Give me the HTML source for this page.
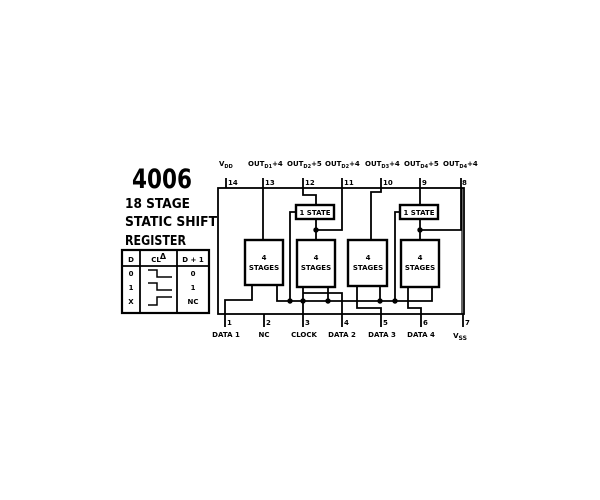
<!DOCTYPE html>
<html><head><meta charset="utf-8"><style>
html,body{margin:0;padding:0;background:#fff;width:600px;height:500px;overflow:hidden}
svg{display:block}
text{font-family:"DejaVu Sans","Liberation Sans",sans-serif;fill:#000}
</style></head><body>
<svg width="600" height="500" viewBox="0 0 600 500" xmlns="http://www.w3.org/2000/svg">
<g font-weight="bold">
<text x="132" y="188" font-size="27" textLength="60" lengthAdjust="spacingAndGlyphs">4006</text>
<text x="125" y="208" font-size="13" textLength="65" lengthAdjust="spacingAndGlyphs">18 STAGE</text>
<text x="125" y="226" font-size="13" textLength="92" lengthAdjust="spacingAndGlyphs">STATIC SHIFT</text>
<text x="125" y="245" font-size="13" textLength="61" lengthAdjust="spacingAndGlyphs">REGISTER</text>
</g>
<g stroke="#000" fill="none">
<rect x="122" y="250" width="87" height="63" stroke-width="2.2"/>
<line x1="122" y1="266" x2="209" y2="266" stroke-width="1.8"/>
<line x1="140" y1="250" x2="140" y2="313" stroke-width="1.8"/>
<line x1="177" y1="250" x2="177" y2="313" stroke-width="1.8"/>
<polyline points="148,270 157,270 157,277 172,277" stroke-width="1.5"/>
<polyline points="148,283 157,283 157,290 172,290" stroke-width="1.5"/>
<polyline points="148,305 157,305 157,297 172,297" stroke-width="1.5"/>
</g>
<g font-size="7" text-anchor="middle" font-weight="bold">
<text x="131" y="262">D</text><text x="156" y="262">CL</text><text x="163" y="259" font-size="8">Δ</text><text x="193" y="262">D + 1</text>
<text x="131" y="276">0</text><text x="131" y="290">1</text><text x="131" y="304">X</text>
<text x="193" y="276">0</text><text x="193" y="290">1</text><text x="193" y="304">NC</text>
</g>
<g stroke="#000" fill="none" stroke-width="1.8">
<rect x="218" y="188" width="246" height="126"/>
<line x1="462" y1="188" x2="462" y2="314" stroke-width="1.2"/>
<line x1="226" y1="178" x2="226" y2="188"/>
<line x1="263" y1="178" x2="263" y2="240"/>
<polyline points="303,178 303,195 316,195 316,205"/>
<polyline points="342,178 342,230 316,230"/>
<polyline points="381,178 381,192 371,192 371,240"/>
<line x1="420" y1="178" x2="420" y2="205"/>
<polyline points="461,178 461,230 420,230"/>
<line x1="316" y1="219" x2="316" y2="240"/>
<line x1="420" y1="219" x2="420" y2="240"/>
<polyline points="296,212 290,212 290,301"/>
<polyline points="400,212 395,212 395,301"/>
<rect x="245" y="240" width="38" height="45" stroke-width="2.4"/>
<rect x="297" y="240" width="38" height="47" stroke-width="2.4"/>
<rect x="348" y="240" width="39" height="46" stroke-width="2.4"/>
<rect x="401" y="240" width="38" height="47" stroke-width="2.4"/>
<rect x="296" y="205" width="38" height="14" stroke-width="2.4"/>
<rect x="400" y="205" width="38" height="14" stroke-width="2.4"/>
<polyline points="252,285 252,300 225,300 225,327"/>
<polyline points="277,285 277,301 432,301 432,287"/>
<line x1="303" y1="287" x2="303" y2="327"/>
<polyline points="303,293 342,293 342,327"/>
<line x1="328" y1="287" x2="328" y2="301"/>
<polyline points="357,286 357,308 381,308 381,327"/>
<line x1="380" y1="286" x2="380" y2="301"/>
<polyline points="408,287 408,308 421,308 421,327"/>
<line x1="264" y1="314" x2="264" y2="327"/>
<line x1="463" y1="314" x2="463" y2="327"/>
</g>
<g fill="#000">
<circle cx="316" cy="230" r="2.7"/><circle cx="420" cy="230" r="2.7"/>
<circle cx="290" cy="301" r="2.7"/><circle cx="303" cy="301" r="2.7"/><circle cx="328" cy="301" r="2.7"/>
<circle cx="380" cy="301" r="2.7"/><circle cx="395" cy="301" r="2.7"/>
</g>
<g font-size="7" text-anchor="middle" font-weight="bold">
<text x="264" y="260">4</text><text x="264" y="270">STAGES</text>
<text x="316" y="260">4</text><text x="316" y="270">STAGES</text>
<text x="368" y="260">4</text><text x="368" y="270">STAGES</text>
<text x="420" y="260">4</text><text x="420" y="270">STAGES</text>
<text x="315" y="215">1 STATE</text><text x="419" y="215">1 STATE</text>
</g>
<g font-size="7" font-weight="bold">
<text x="228" y="185">14</text><text x="265" y="185">13</text><text x="305" y="185">12</text>
<text x="344" y="185">11</text><text x="383" y="185">10</text><text x="422" y="185">9</text><text x="462" y="185">8</text>
<text x="227" y="325">1</text><text x="266" y="325">2</text><text x="305" y="325">3</text><text x="344" y="325">4</text>
<text x="383" y="325">5</text><text x="423" y="325">6</text><text x="465" y="325">7</text>
<text x="219" y="166">V<tspan font-size="5" dy="2">DD</tspan></text>
<text x="248" y="166">OUT<tspan font-size="5" dy="2">D1</tspan><tspan dy="-2">+4</tspan></text>
<text x="287" y="166">OUT<tspan font-size="5" dy="2">D2</tspan><tspan dy="-2">+5</tspan></text>
<text x="325" y="166">OUT<tspan font-size="5" dy="2">D2</tspan><tspan dy="-2">+4</tspan></text>
<text x="365" y="166">OUT<tspan font-size="5" dy="2">D3</tspan><tspan dy="-2">+4</tspan></text>
<text x="404" y="166">OUT<tspan font-size="5" dy="2">D4</tspan><tspan dy="-2">+5</tspan></text>
<text x="443" y="166">OUT<tspan font-size="5" dy="2">D4</tspan><tspan dy="-2">+4</tspan></text>
</g>
<g font-size="7" text-anchor="middle" font-weight="bold">
<text x="226" y="337">DATA 1</text><text x="264" y="337">NC</text><text x="304" y="337">CLOCK</text>
<text x="342" y="337">DATA 2</text><text x="382" y="337">DATA 3</text><text x="421" y="337">DATA 4</text>
<text x="460" y="338">V<tspan font-size="6" dy="2">SS</tspan></text>
</g>
</svg>
</body></html>
